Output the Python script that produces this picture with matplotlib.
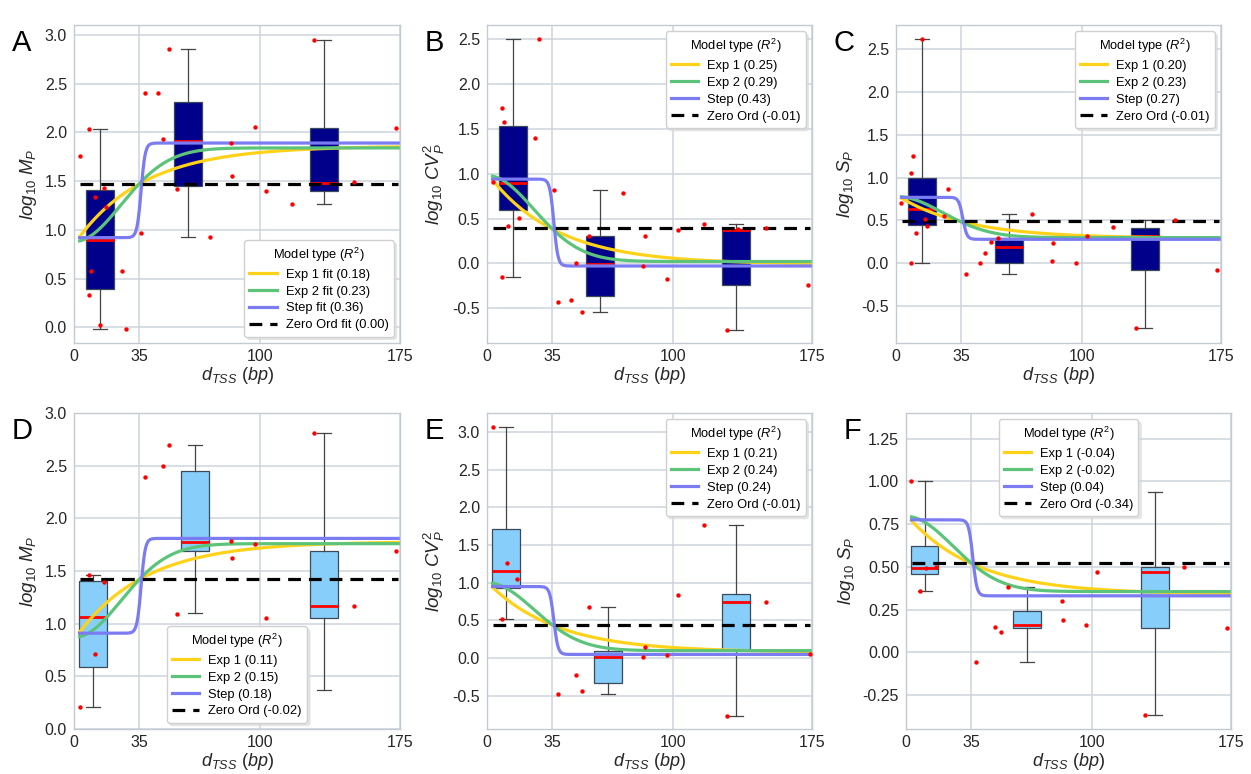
import numpy as np
import matplotlib
matplotlib.use('Agg')
import matplotlib.pyplot as plt

plt.rcParams['font.family'] = ['Liberation Sans', 'DejaVu Sans']
plt.rcParams['mathtext.fontset'] = 'custom'
plt.rcParams['mathtext.rm'] = 'Liberation Sans'
plt.rcParams['mathtext.it'] = 'Liberation Sans:italic'
plt.rcParams['axes.unicode_minus'] = True

# ---- data ----
# top row (A, B, C) shares the promoter distances
a_x = [3, 7.9, 7.9, 9, 11.1, 13.8, 15.9, 17, 26, 27.8, 36.2, 38, 45.1, 48, 51, 55,
       72.9, 84, 84.9, 97.1, 102.8, 117.1, 129, 150.3, 172.8]
a_y = [1.76, 2.03, 0.33, 0.58, 1.34, 0.03, 1.43, 1.23, 0.58, -0.02, 0.97, 2.40, 2.40,
       1.93, 2.85, 1.42, 0.93, 1.89, 1.55, 2.05, 1.40, 1.27, 2.95, 1.49, 2.04]
b_x = [3, 8.1, 9, 8.1, 11.1, 17, 26, 28.1, 36.2, 38.2, 45, 48, 51, 55, 73.1, 84.2,
       85.1, 96.9, 103, 117.1, 129, 135.2, 150.3, 173]
b_y = [0.91, 1.73, 1.58, -0.15, 0.42, 0.51, 1.40, 2.50, 0.82, -0.43, -0.41, 0.00,
       -0.54, 0.30, 0.79, -0.03, 0.31, -0.18, 0.37, 0.44, -0.74, 0.38, 0.39, -0.24]
c_x = [2.9, 7.9, 9, 7.9, 10.9, 14, 15.8, 16.9, 25.6, 27.8, 37.8, 45, 47.9, 51.1, 54.9,
       73, 83.9, 84.8, 97, 102.9, 117.1, 129.1, 150.3, 173]
c_y = [0.70, 1.05, 1.25, 0.00, 0.35, 2.62, 0.52, 0.44, 0.55, 0.87, -0.12, 0.00, 0.12,
       0.25, 0.30, 0.58, 0.03, 0.24, 0.00, 0.32, 0.42, -0.76, 0.50, -0.08]
# bottom row (D, E, F)
d_x = [3, 8.1, 11.1, 15.9, 38, 48, 51, 55, 84, 84.9, 97.1, 102.8, 129, 150.3, 172.8]
d_y = [0.21, 1.46, 0.71, 1.40, 2.39, 2.50, 2.70, 1.09, 1.79, 1.62, 1.76, 1.05, 2.81,
       1.17, 1.69]
e_x = [3, 8.1, 10.9, 15.9, 38.2, 48, 51, 55, 84.2, 85.1, 96.9, 103, 117.1, 129, 150.3,
       173.7]
e_y = [3.07, 0.52, 1.26, 1.05, -0.48, -0.22, -0.44, 0.68, 0.01, 0.15, 0.04, 0.84,
       1.76, -0.76, 0.75, 0.06]
f_x = [2.7, 7.7, 10.9, 16.3, 37.7, 47.7, 50.9, 54.9, 83.9, 84.8, 96.8, 102.9, 128.9,
       149.9, 173]
f_y = [1.00, 0.36, 0.49, 0.50, -0.06, 0.15, 0.12, 0.38, 0.30, 0.19, 0.16, 0.47,
       -0.37, 0.50, 0.14]

# boxes: [whisker low, q1, median, q3, whisker high]
a_boxes = [[-0.02, 0.39, 0.90, 1.41, 2.03], [0.93, 1.45, 1.91, 2.31, 2.85],
           [1.27, 1.40, 1.48, 2.04, 2.95]]
b_boxes = [[-0.15, 0.59, 0.90, 1.53, 2.50], [-0.54, -0.36, -0.01, 0.31, 0.82],
           [-0.74, -0.24, 0.37, 0.38, 0.44]]
c_boxes = [[0.00, 0.45, 0.63, 1.00, 2.62], [-0.12, 0.00, 0.19, 0.29, 0.58],
           [-0.76, -0.08, 0.32, 0.41, 0.50]]
d_boxes = [[0.21, 0.59, 1.06, 1.41, 1.46], [1.10, 1.69, 1.78, 2.45, 2.70],
           [0.37, 1.05, 1.17, 1.69, 2.81]]
e_boxes = [[0.52, 0.93, 1.16, 1.71, 3.07], [-0.47, -0.33, 0.01, 0.09, 0.68],
           [-0.76, 0.11, 0.75, 0.85, 1.76]]
f_boxes = [[0.36, 0.46, 0.49, 0.62, 1.00], [-0.06, 0.14, 0.16, 0.24, 0.38],
           [-0.37, 0.14, 0.47, 0.50, 0.94]]
top_pos = [14, 61, 134]
bottom_pos = [10, 65, 134]

# fitted models: exp1 [value at d=3, plateau], exp2 [value at d=0, plateau],
# step [left level, right level], zero order level
a_exp1, a_exp2, a_step, a_zero = [0.93, 1.86], [0.88, 1.84], [0.92, 1.89], 1.47
b_exp1, b_exp2, b_step, b_zero = [0.93, -0.01], [0.98, 0.02], [0.94, -0.03], 0.39
c_exp1, c_exp2, c_step, c_zero = [0.76, 0.29], [0.78, 0.30], [0.77, 0.28], 0.49
d_exp1, d_exp2, d_step, d_zero = [0.92, 1.78], [0.87, 1.76], [0.91, 1.81], 1.42
e_exp1, e_exp2, e_step, e_zero = [0.94, 0.08], [1.00, 0.10], [0.95, 0.05], 0.44
f_exp1, f_exp2, f_step, f_zero = [0.77, 0.34], [0.795, 0.355], [0.775, 0.33], 0.52

a_r2 = ['Exp 1 fit (0.18)', 'Exp 2 fit (0.23)', 'Step fit (0.36)', 'Zero Ord fit (0.00)']
b_r2 = ['Exp 1 (0.25)', 'Exp 2 (0.29)', 'Step (0.43)', 'Zero Ord (-0.01)']
c_r2 = ['Exp 1 (0.20)', 'Exp 2 (0.23)', 'Step (0.27)', 'Zero Ord (-0.01)']
d_r2 = ['Exp 1 (0.11)', 'Exp 2 (0.15)', 'Step (0.18)', 'Zero Ord (-0.02)']
e_r2 = ['Exp 1 (0.21)', 'Exp 2 (0.24)', 'Step (0.24)', 'Zero Ord (-0.01)']
f_r2 = ['Exp 1 (-0.04)', 'Exp 2 (-0.02)', 'Step (0.04)', 'Zero Ord (-0.34)']

ylab_mp = r'$log_{10}\ M_P$'
ylab_cv = r'$log_{10}\ CV_P^2$'
ylab_sp = r'$log_{10}\ S_P$'
xlab = r'$d_{TSS}\ (bp)$'
xticks = [0, 35, 100, 175]

panels = [
    ('A', a_x, a_y, a_boxes, top_pos, a_exp1, a_exp2, a_step, a_zero, a_r2, ylab_mp,
     (-0.16, 3.1), np.arange(0, 3.01, 0.5), '%.1f', 'lower right', '#00008B',
     [0.0592, 0.5568, 0.2606, 0.4109]),
    ('B', b_x, b_y, b_boxes, top_pos, b_exp1, b_exp2, b_step, b_zero, b_r2, ylab_cv,
     (-0.89, 2.66), np.arange(-0.5, 2.51, 0.5), '%.1f', 'upper right', '#00008B',
     [0.3893, 0.5568, 0.2598, 0.4109]),
    ('C', c_x, c_y, c_boxes, top_pos, c_exp1, c_exp2, c_step, c_zero, c_r2, ylab_sp,
     (-0.93, 2.78), np.arange(-0.5, 2.51, 0.5), '%.1f', 'upper right', '#00008B',
     [0.7162, 0.5568, 0.2598, 0.4109]),
    ('D', d_x, d_y, d_boxes, bottom_pos, d_exp1, d_exp2, d_step, d_zero, d_r2, ylab_mp,
     (0.0, 3.0), np.arange(0, 3.01, 0.5), '%.1f', 'lower center', '#87CEFA',
     [0.0592, 0.0580, 0.2606, 0.4084]),
    ('E', e_x, e_y, e_boxes, bottom_pos, e_exp1, e_exp2, e_step, e_zero, e_r2, ylab_cv,
     (-0.94, 3.25), np.arange(-0.5, 3.01, 0.5), '%.1f', 'upper right', '#87CEFA',
     [0.3893, 0.0580, 0.2598, 0.4084]),
    ('F', f_x, f_y, f_boxes, bottom_pos, f_exp1, f_exp2, f_step, f_zero, f_r2, ylab_sp,
     (-0.45, 1.40), np.arange(-0.25, 1.26, 0.25), '%.2f', 'upper center', '#87CEFA',
     [0.7242, 0.0580, 0.2598, 0.4084]),
]

col_exp1 = '#FFD21A'
col_exp2 = '#5CC47A'
col_step = '#7B7BF2'
grid_col = '#CDD5DD'

fig = plt.figure(figsize=(12.51, 7.74), dpi=100)
xs = np.linspace(3, 174, 500)

for (lab, px, py, boxes, pos, e1, e2, st, z, r2, ylab, ylim, yt, fmt, loc, boxcol,
     rect) in panels:
    ax = fig.add_axes(rect)
    ax.set_facecolor('white')
    for s in ax.spines.values():
        s.set_color('#C3CAD2')
        s.set_linewidth(1.0)
    ax.grid(True, color=grid_col, lw=1.1, zorder=0)
    ax.set_axisbelow(True)

    stats = [dict(whislo=b[0], q1=b[1], med=b[2], q3=b[3], whishi=b[4], fliers=[])
             for b in boxes]
    ax.bxp(stats, positions=pos, widths=15, patch_artist=True, showfliers=False,
           boxprops=dict(facecolor=boxcol, edgecolor='#3A4A5A', lw=0.9),
           medianprops=dict(color='red', lw=2),
           whiskerprops=dict(color='#444444', lw=0.9),
           capprops=dict(color='#444444', lw=0.9), manage_ticks=False, zorder=2)

    y1 = e1[1] + (e1[0] - e1[1]) * np.exp(-0.0272 * (xs - 3))
    y2 = e2[1] + (e2[0] - e2[1]) * np.exp(-(xs / 35.7) ** 2)
    y3 = st[0] + (st[1] - st[0]) / (1 + np.exp(-(xs - 36) / 1.1))
    h1, = ax.plot(xs, y1, color=col_exp1, lw=2.3, zorder=3)
    h2, = ax.plot(xs, y2, color=col_exp2, lw=2.3, zorder=3)
    h3, = ax.plot(xs, y3, color=col_step, lw=2.3, zorder=3)
    h4, = ax.plot([3, 174], [z, z], color='black', lw=2.3, ls=(0, (4, 2.5)), zorder=3)

    ax.scatter(px, py, s=10, color='red', lw=0, zorder=4)

    ax.set_xlim(0, 175)
    ax.set_ylim(*ylim)
    ax.set_xticks(xticks)
    ax.set_yticks(yt)
    ax.set_yticklabels([fmt % v for v in yt])
    ax.tick_params(length=0, labelsize=11.5, colors='#262626', pad=5)
    ax.tick_params(axis='x', pad=4)
    ax.set_xlabel(xlab, fontsize=13, color='#262626', labelpad=1)
    ax.set_ylabel(ylab, fontsize=13.5, color='#262626', labelpad=4)

    leg = ax.legend([h1, h2, h3, h4], r2, loc=loc, title=r'Model type ($R^2$)',
                    fontsize=9.3, title_fontsize=9.3, frameon=True, fancybox=True,
                    framealpha=1, edgecolor='#D0D0D0', handlelength=2.1,
                    labelspacing=0.38, handletextpad=0.7,
                    shadow={'color': '0.85', 'alpha': 0.6, 'ox': 2, 'oy': -2})
    leg.set_zorder(5)

    fig.text(rect[0] - 0.05, rect[1] + rect[3] - 0.005, lab, fontsize=21,
             family='Liberation Sans', va='top', ha='left')

fig.savefig('out.png', dpi=100)
